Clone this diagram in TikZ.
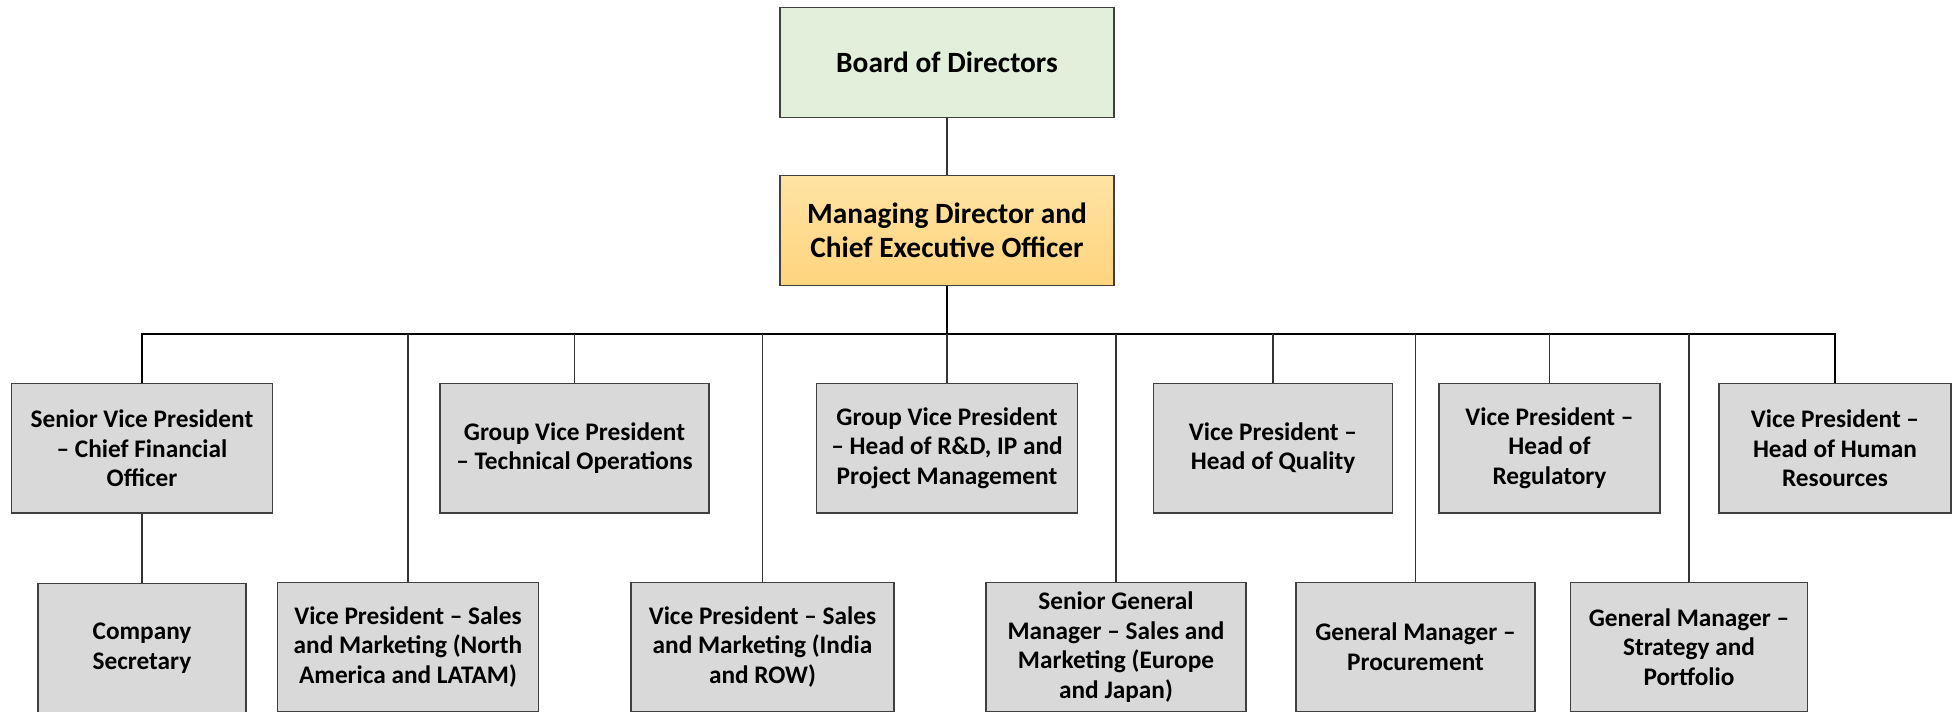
\documentclass[tikz,border=0pt]{standalone}
\usepackage{fontspec}
\setmainfont{Carlito}
\usepackage{xcolor}
\usetikzlibrary{positioning}

\definecolor{boardgreen}{RGB}{226,239,218}
\definecolor{mdtop}{RGB}{255,227,163}
\definecolor{mdbottom}{RGB}{255,212,125}
\definecolor{boxgray}{RGB}{217,217,217}
\definecolor{edgegray}{RGB}{64,64,64}

\begin{document}
\begin{tikzpicture}[
  x=0.5pt, y=-0.5pt,
  every node/.style={align=center, font=\bfseries\fontsize{12.65}{14.8}\selectfont},
  box/.style={rectangle, draw=edgegray, line width=0.65pt, fill=boxgray, inner sep=0pt, minimum height=64.75pt},
  topbox/.style={rectangle, draw=edgegray, line width=0.65pt, inner sep=0pt, minimum width=167pt, minimum height=55pt, font=\bfseries\fontsize{14.7}{17.2}\selectfont},
  trunk/.style={draw=black, line width=0.9pt},
  link/.style={draw=black!80, line width=0.7pt},
]
\useasboundingbox (0,0) rectangle (1960,712);

\node[topbox, fill=boardgreen] (board) at (947,62.5) {Board of Directors};
\node[topbox, top color=mdtop, bottom color=mdbottom, below=28.25pt of board] (md) {Managing Director and\\Chief Executive Officer};

\coordinate (bus) at (947,334);

% first level
\node[box, minimum width=130.75pt] (svp) at (142,448.25) {Senior Vice President\\-- Chief Financial\\Officer};
\node[box, minimum width=134.5pt] (gvpt) at (574.5,448.25) {Group Vice President\\-- Technical Operations};
\node[box, minimum width=130.75pt] (gvprd) at (947,448.25) {Group Vice President\\-- Head of R\&D, IP and\\Project Management};
\node[box, minimum width=119.25pt] (vpq) at (1273,448.25) {Vice President --\\Head of Quality};
\node[box, minimum width=110.5pt] (vpreg) at (1549.5,448.25) {Vice President --\\Head of\\Regulatory};
\node[box, minimum width=116pt] (vphr) at (1835,448.25) {Vice President --\\Head of Human\\Resources};

% second level
\node[box, minimum width=104pt, minimum height=64.5pt, below=34.75pt of svp] (cs) {Company\\Secretary};
\node[box, minimum width=130.75pt, minimum height=64.5pt] (vpsna) at (408,647) {Vice President -- Sales\\and Marketing (North\\America and LATAM)};
\node[box, minimum width=131.5pt, minimum height=64.5pt] (vpsin) at (762.5,647) {Vice President -- Sales\\and Marketing (India\\and ROW)};
\node[box, minimum width=130pt, minimum height=64.5pt] (sgm) at (1116,647) {Senior General\\Manager -- Sales and\\Marketing (Europe\\and Japan)};
\node[box, minimum width=119.5pt, minimum height=64.5pt] (gmp) at (1415.5,647) {General Manager --\\Procurement};
\node[box, minimum width=118.75pt, minimum height=64.5pt] (gms) at (1689,647) {General Manager --\\Strategy and\\Portfolio};

\draw[link] (board) -- (md);
\draw[trunk] (md) -- (bus);
\draw[trunk] (svp.north) |- (bus) -| (vphr.north);
\draw[link] (bus -| gvpt.north) -- (gvpt.north);
\draw[link] (bus -| gvprd.north) -- (gvprd.north);
\draw[link] (bus -| vpq.north) -- (vpq.north);
\draw[link] (bus -| vpreg.north) -- (vpreg.north);
\draw[link] (bus -| vpsna.north) -- (vpsna.north);
\draw[link] (bus -| vpsin.north) -- (vpsin.north);
\draw[link] (bus -| sgm.north) -- (sgm.north);
\draw[link] (bus -| gmp.north) -- (gmp.north);
\draw[link] (bus -| gms.north) -- (gms.north);
\draw[link] (svp) -- (cs);
\end{tikzpicture}
\end{document}
